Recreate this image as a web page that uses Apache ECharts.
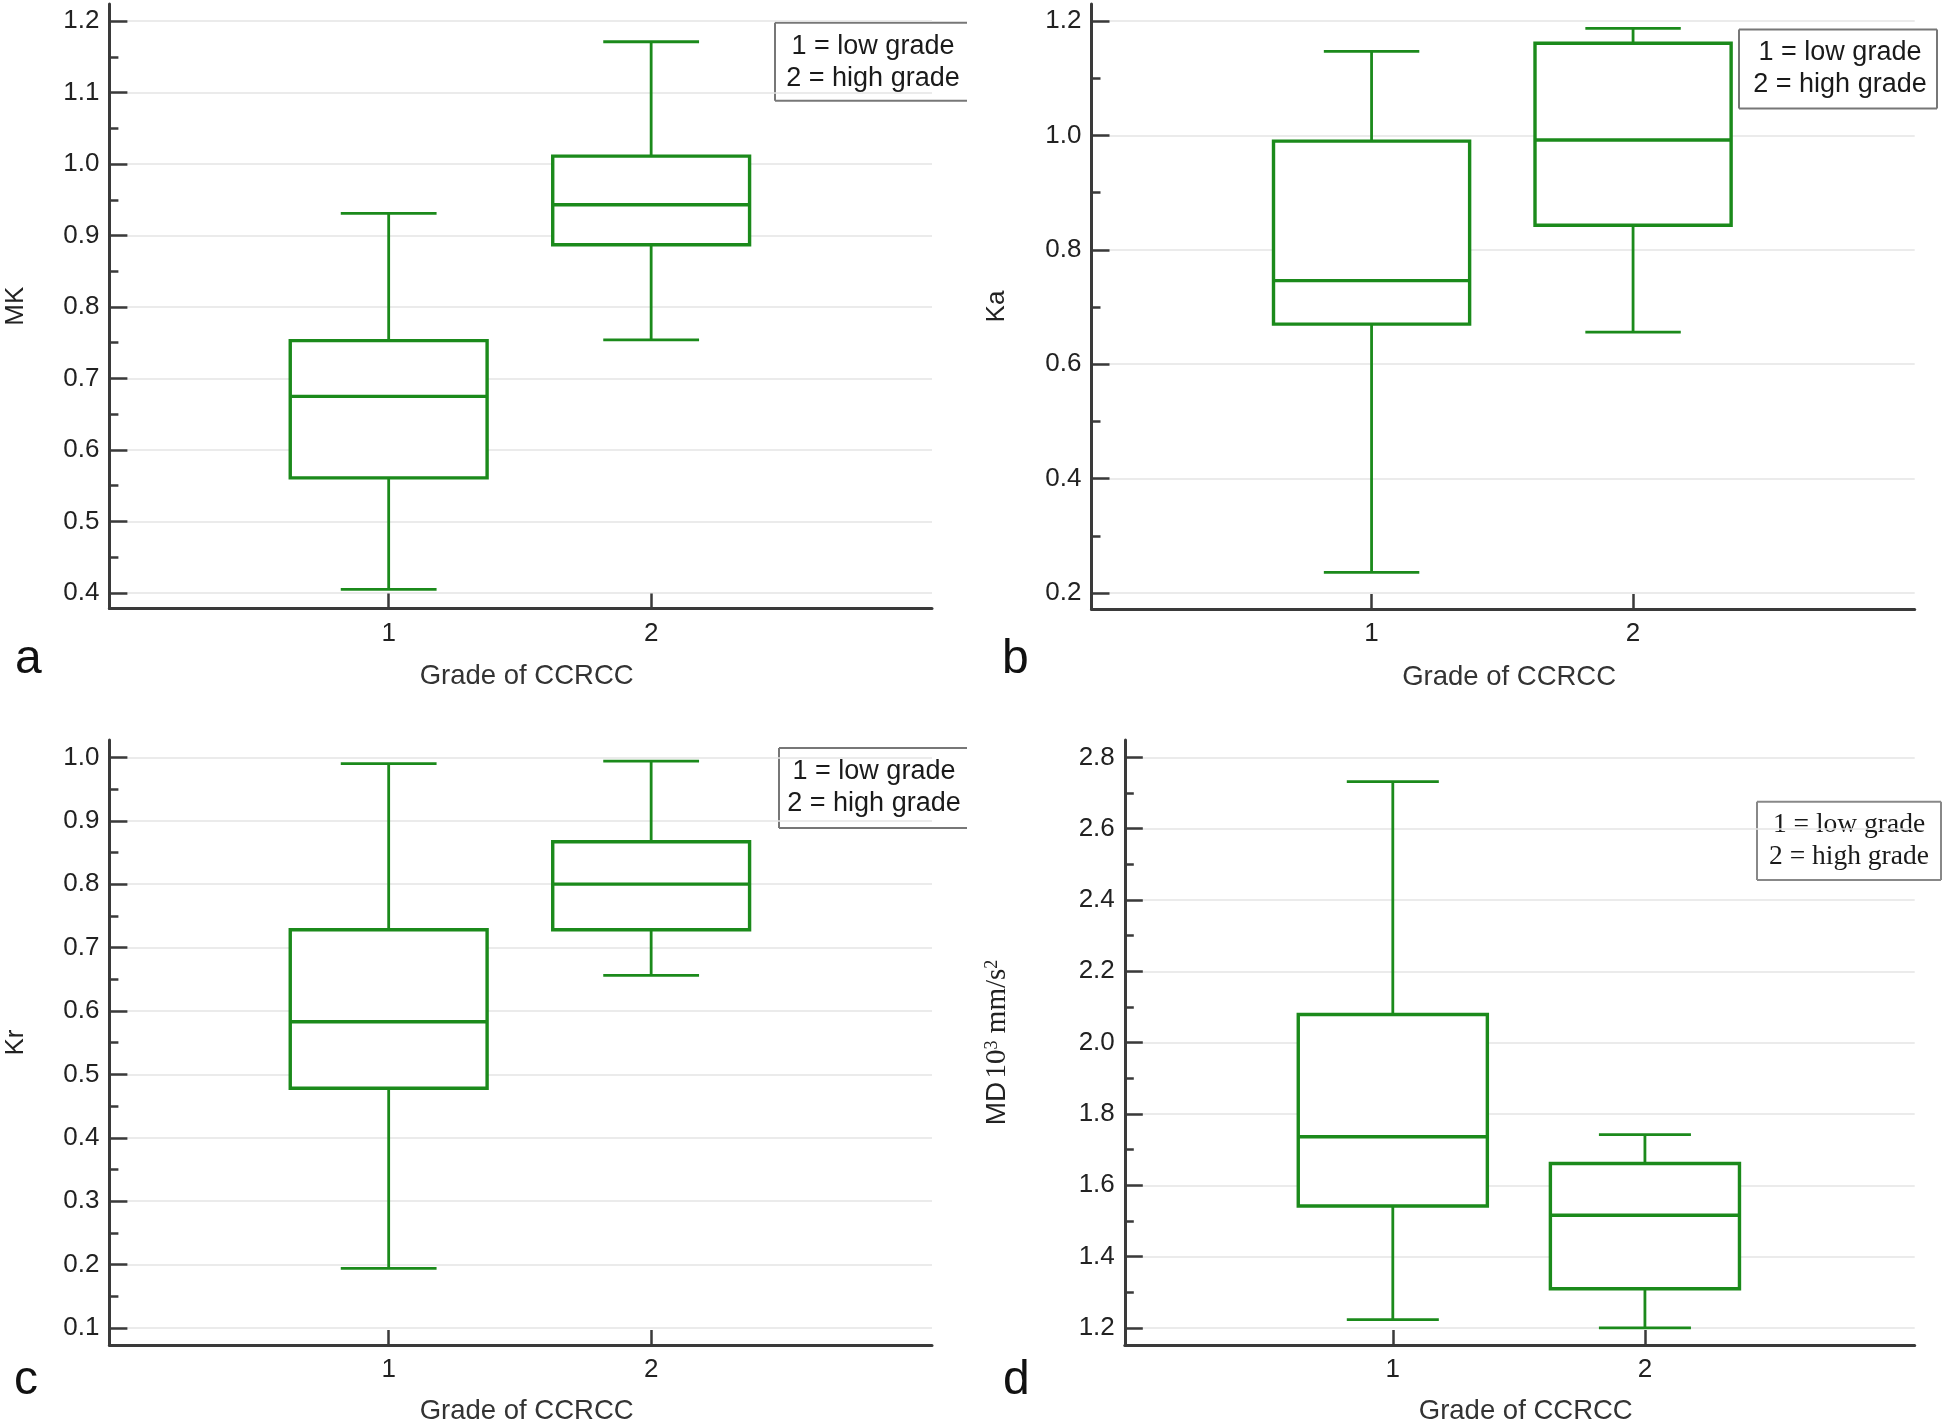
<!DOCTYPE html>
<html><head><meta charset="utf-8">
<script src="https://cdn.jsdelivr.net/npm/echarts@6/dist/echarts.min.js"></script>
<style>html,body{margin:0;padding:0;background:#fff}#c{width:1946px;height:1426px}</style>
</head><body><div id="c"></div>
<script>
// ---------------- data ----------------
const categories = [1, 2];
const legendLines = ['1 = low grade', '2 = high grade'];
const xTitle = 'Grade of CCRCC';
// [min, Q1, median, Q3, max] per category
const mkBox = [[0.405, 0.561, 0.675, 0.753, 0.931], [0.754, 0.887, 0.943, 1.011, 1.171]];
const kaBox = [[0.236, 0.670, 0.746, 0.990, 1.147], [0.656, 0.843, 0.992, 1.161, 1.187]];
const krBox = [[0.194, 0.478, 0.583, 0.728, 0.990], [0.656, 0.728, 0.800, 0.867, 0.994]];
const mdBox = [[1.223, 1.542, 1.736, 2.079, 2.732], [1.200, 1.310, 1.516, 1.661, 1.742]];
// tick labels
const mkTicks = [0.4, 0.5, 0.6, 0.7, 0.8, 0.9, 1.0, 1.1, 1.2];
const mkMinor = [0.45, 0.55, 0.65, 0.75, 0.85, 0.95, 1.05, 1.15];
const kaTicks = [0.2, 0.4, 0.6, 0.8, 1.0, 1.2];
const kaMinor = [0.3, 0.5, 0.7, 0.9, 1.1];
const krTicks = [0.1, 0.2, 0.3, 0.4, 0.5, 0.6, 0.7, 0.8, 0.9, 1.0];
const krMinor = [0.15, 0.25, 0.35, 0.45, 0.55, 0.65, 0.75, 0.85, 0.95];
const mdTicks = [1.2, 1.4, 1.6, 1.8, 2.0, 2.2, 2.4, 2.6, 2.8];
const mdMinor = [1.3, 1.5, 1.7, 1.9, 2.1, 2.3, 2.5, 2.7];

// ---------------- layout / style ----------------
const GREEN = '#1b8a1b';
const AXIS = '#3a3a3a';
const SANS = '"Liberation Sans", Arial, sans-serif';
const SERIF = '"Liberation Serif", "Times New Roman", serif';
const BOX_W = 0.75, CAP_W = 0.365;

const panels = [
  {letter: 'a', box: mkBox, ticks: mkTicks, minor: mkMinor, yName: 'MK',
   grid: {left: 109.4, top: 4, width: 822.6, height: 604.5}, y: [0.3783, 1.2238], x: [-0.064, 3.07],
   nameGap: 81, xGap: 54, letterPos: [15, 660]},
  {letter: 'b', box: kaBox, ticks: kaTicks, minor: kaMinor, yName: 'Ka',
   grid: {left: 1091.5, top: 4, width: 823.2, height: 605}, y: [0.172, 1.2297], x: [-0.071, 3.077],
   nameGap: 82, xGap: 54, letterPos: [1002, 660]},
  {letter: 'c', box: krBox, ticks: krTicks, minor: krMinor, yName: 'Kr',
   grid: {left: 109.4, top: 740, width: 822.6, height: 605.8}, y: [0.0731, 1.0274], x: [-0.064, 3.07],
   nameGap: 81, xGap: 52, letterPos: [14, 1381]},
  {letter: 'd', box: mdBox, ticks: mdTicks, minor: mdMinor, yName: '{a|MD} {b|10}{s|3}{b| mm/s}{s|2}', rich: true,
   grid: {left: 1124.8, top: 740, width: 789.9, height: 605.8}, y: [1.1521, 2.8487], x: [-0.063, 3.07],
   nameGap: 113, xGap: 52, letterPos: [1003, 1381]}
];

function renderBox(params, api) {
  const x = api.value(0);
  const lo = api.coord([x, api.value(1)]);
  const q1 = api.coord([x, api.value(2)]);
  const md = api.coord([x, api.value(3)]);
  const q3 = api.coord([x, api.value(4)]);
  const hi = api.coord([x, api.value(5)]);
  const half = api.size([BOX_W, 0])[0] / 2;
  const cap = api.size([CAP_W, 0])[0] / 2;
  const cx = lo[0];
  const w = {stroke: GREEN, lineWidth: 2.8};
  const b = {stroke: GREEN, lineWidth: 3.4};
  return {type: 'group', children: [
    {type: 'line', shape: {x1: cx, y1: hi[1], x2: cx, y2: q3[1]}, style: w},
    {type: 'line', shape: {x1: cx, y1: q1[1], x2: cx, y2: lo[1]}, style: w},
    {type: 'line', shape: {x1: cx - cap, y1: hi[1], x2: cx + cap, y2: hi[1]}, style: w},
    {type: 'line', shape: {x1: cx - cap, y1: lo[1], x2: cx + cap, y2: lo[1]}, style: w},
    {type: 'rect', shape: {x: cx - half, y: q3[1], width: 2 * half, height: q1[1] - q3[1]},
     style: {fill: '#fff', stroke: GREEN, lineWidth: 3.4}},
    {type: 'line', shape: {x1: cx - half, y1: md[1], x2: cx + half, y2: md[1]}, style: b}
  ]};
}

const grid = [], xAxis = [], yAxis = [], series = [];
panels.forEach((p, i) => {
  grid.push(Object.assign({containLabel: false}, p.grid));
  xAxis.push({
    gridIndex: i, type: 'value', min: p.x[0], max: p.x[1],
    axisLine: {show: true, onZero: false, lineStyle: {color: AXIS, width: 3}},
    axisTick: {show: true, inside: true, length: 15, customValues: categories, lineStyle: {color: AXIS, width: 2.5}},
    axisLabel: {show: true, customValues: categories, margin: 12, fontSize: 26, color: '#222', fontFamily: SANS,
      formatter: v => String(v)},
    splitLine: {show: false},
    name: xTitle, nameLocation: 'middle', nameGap: p.xGap,
    nameTextStyle: {fontSize: 27.5, color: '#333', fontFamily: SANS, padding: [0, 0, 0, 12]}
  });
  const nameStyle = p.rich ? {
    color: '#222',
    rich: {
      a: {fontFamily: SANS, fontSize: 28, color: '#222'},
      b: {fontFamily: SERIF, fontSize: 29, color: '#222'},
      s: {fontFamily: SERIF, fontSize: 18, color: '#222', verticalAlign: 'top'}
    }
  } : {fontSize: 26, color: '#222', fontFamily: SANS};
  yAxis.push({
    gridIndex: i, type: 'value', position: 'left', offset: 0, min: p.y[0], max: p.y[1],
    axisLine: {show: true, onZero: false, lineStyle: {color: AXIS, width: 3}},
    axisTick: {show: true, inside: true, length: 18, customValues: p.ticks, lineStyle: {color: AXIS, width: 2.5}},
    axisLabel: {show: true, customValues: p.ticks, margin: 10, fontSize: 26, color: '#222', fontFamily: SANS,
      formatter: v => v.toFixed(1)},
    splitLine: {show: true, lineStyle: {color: '#e4e4e4', width: 1.5}},
    name: p.yName, nameLocation: 'middle', nameGap: p.nameGap, nameRotate: 90,
    nameTextStyle: nameStyle
  });
  yAxis.push({
    gridIndex: i, type: 'value', position: 'left', offset: 0, min: p.y[0], max: p.y[1],
    axisLine: {show: false, onZero: false},
    axisTick: {show: true, inside: true, length: 9, customValues: p.minor, lineStyle: {color: AXIS, width: 2.5}},
    axisLabel: {show: false}, splitLine: {show: false}
  });
  series.push({
    type: 'custom', xAxisIndex: i, yAxisIndex: 2 * i, silent: true, clip: false,
    renderItem: renderBox,
    encode: {x: 0, y: [1, 2, 3, 4, 5]},
    data: categories.map((c, k) => [c].concat(p.box[k]))
  });
});

// legends and panel letters
function legend(x0, y0, x1, y1, cx, ys, font, size, rightBorder, color) {
  const ls = {stroke: color, lineWidth: 2};
  const ch = [
    {type: 'line', shape: {x1: x0, y1: y0, x2: x1, y2: y0}, style: ls},
    {type: 'line', shape: {x1: x0, y1: y1, x2: x1, y2: y1}, style: ls},
    {type: 'line', shape: {x1: x0, y1: y0, x2: x0, y2: y1}, style: ls}
  ];
  if (rightBorder) ch.push({type: 'line', shape: {x1: x1, y1: y0, x2: x1, y2: y1}, style: ls});
  legendLines.forEach((t, k) => ch.push({type: 'text', x: cx, y: ys[k],
    style: {text: t, fontSize: size, fontFamily: font, fill: '#1a1a1a', align: 'center', verticalAlign: 'middle'}}));
  return {type: 'group', children: ch};
}
const graphic = [
  legend(775, 22.7, 967, 100.7, 873, [46.5, 78.5], SANS, 27, false, '#777'),
  legend(1739, 29.5, 1937, 108.5, 1840, [52.5, 85], SANS, 27, true, '#777'),
  legend(779, 748, 967, 828, 874, [771.5, 803.5], SANS, 27, false, '#777'),
  legend(1757, 801.7, 1941, 880, 1849, [824.5, 857], SERIF, 27.5, true, '#888')
];
panels.forEach(p => graphic.push({type: 'text', x: p.letterPos[0], y: p.letterPos[1],
  style: {text: p.letter, fontSize: 48, fontFamily: SANS, fill: '#111', verticalAlign: 'middle'}}));

const chart = echarts.init(document.getElementById('c'), null, {renderer: 'canvas'});
chart.setOption({
  animation: false, backgroundColor: '#fff',
  grid, xAxis, yAxis, series, graphic
});
</script></body></html>
